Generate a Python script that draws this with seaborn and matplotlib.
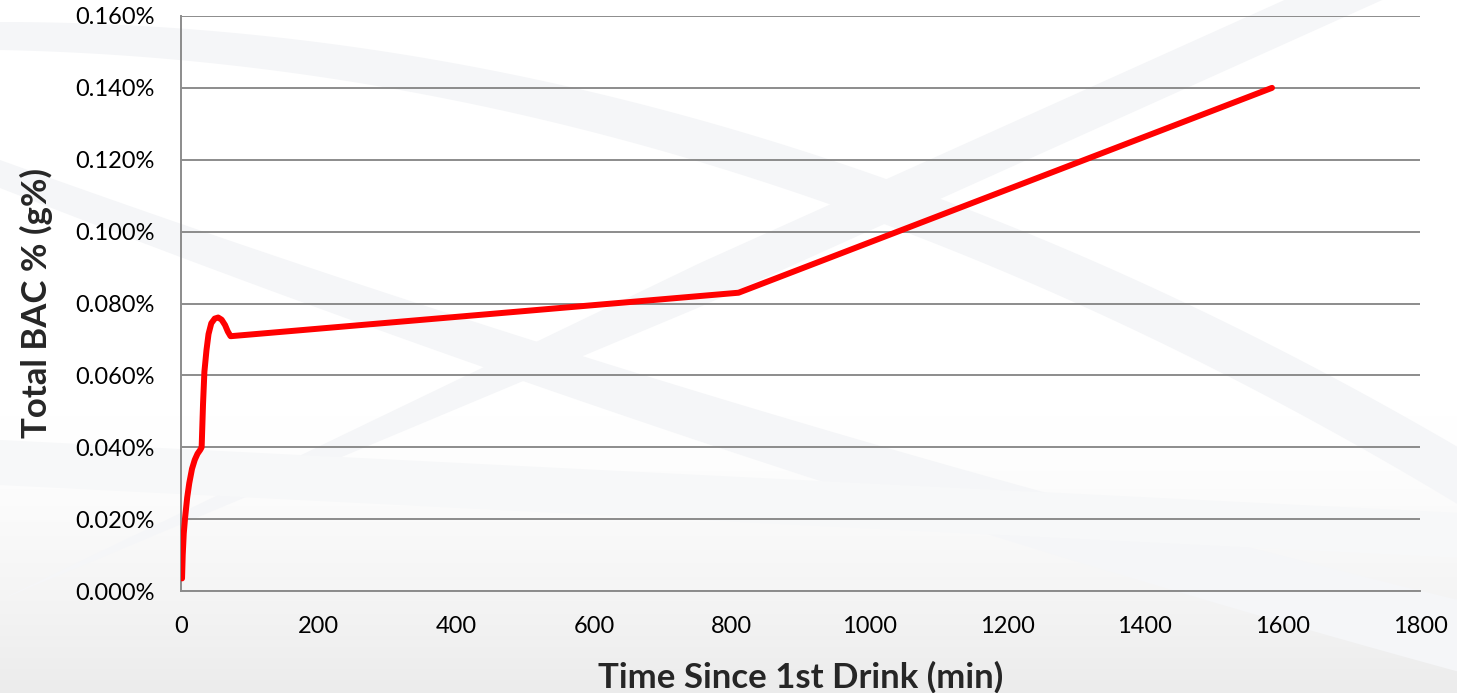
import numpy as np
import pandas as pd
import matplotlib
matplotlib.use("Agg")
import matplotlib.pyplot as plt
import seaborn as sns
from matplotlib.ticker import FuncFormatter

# Blood alcohol concentration over time since the first drink
time_min = [1.5, 2.5, 4, 6, 9, 12, 16, 20, 24, 28, 30,
            32, 34, 37, 40, 44, 49, 54, 59, 64, 68, 72,
            810, 1585]
bac_pct = [0.0035, 0.0100, 0.0160, 0.0205, 0.0260, 0.0300, 0.0340, 0.0365, 0.0382, 0.0393, 0.0400,
           0.0520, 0.0610, 0.0670, 0.0715, 0.0745, 0.0758, 0.0761, 0.0755, 0.0740, 0.0722, 0.0709,
           0.0830, 0.1400]

x_ticks = [0, 200, 400, 600, 800, 1000, 1200, 1400, 1600, 1800]
y_ticks = [0.000, 0.020, 0.040, 0.060, 0.080, 0.100, 0.120, 0.140, 0.160]

df = pd.DataFrame({"Time Since 1st Drink (min)": time_min, "Total BAC % (g%)": bac_pct})

sns.set_theme(style="white")
plt.rcParams["font.family"] = ["Lato", "DejaVu Sans"]

fig = plt.figure(figsize=(14.57, 6.93), dpi=100)

# Slide-style backdrop: soft vertical gradient with faint sweeping bands
bg = fig.add_axes([0, 0, 1, 1], zorder=0)
bg.set_xlim(0, 1457)
bg.set_ylim(693, 0)
bg.axis("off")
grad = np.linspace(0, 1, 256).reshape(-1, 1)
grad = np.clip((grad - 0.6) / 0.4, 0, 1) ** 1.4
shade = 1.0 - 0.075 * grad
img = np.dstack([shade, shade, shade])
bg.imshow(img, extent=[0, 1457, 693, 0], aspect="auto", zorder=0)

xs = np.linspace(0, 1457, 300)
band_col = "#f5f6f8"
# band from upper left sweeping down to the right
top1 = 22 + 0.0002 * xs ** 2
bg.fill_between(xs, top1, top1 + 28 + 0.02 * xs, color=band_col, lw=0, zorder=1)
# band from left middle curving down toward bottom right
top2 = 160 + 0.36 * xs - 0.00004 * xs ** 2
bg.fill_between(xs, top2, top2 + 28 + 0.03 * xs, color=band_col, lw=0, zorder=1)
# tapered band rising from lower left to upper right
mid3 = 600 - 0.45 * xs
half3 = 22 * np.clip(xs / 700, 0, 1)
bg.fill_between(xs, mid3 - half3, mid3 + half3, color=band_col, lw=0, zorder=1)
# band across the lower part
top4 = 440 + 0.05 * xs
bg.fill_between(xs, top4, top4 + 45, color="#f7f8f9", lw=0, zorder=1)

ax = fig.add_axes([181 / 1457, 1 - 591 / 693, (1420 - 181) / 1457, (591 - 16) / 693], zorder=2)
ax.patch.set_alpha(0)

sns.lineplot(data=df, x="Time Since 1st Drink (min)", y="Total BAC % (g%)", ax=ax,
             color="#ff0000", linewidth=4.3, estimator=None, sort=False, zorder=3)
ax.lines[-1].set_solid_capstyle("round")

ax.set_xlim(0, 1800)
ax.set_ylim(0, 0.160)
ax.set_xticks(x_ticks)
ax.set_yticks(y_ticks)
ax.yaxis.set_major_formatter(FuncFormatter(lambda v, p: f"{v:.3f}%"))
ax.grid(axis="y", color="#8c8c8c", linewidth=1.4)
ax.grid(axis="x", visible=False)
for side in ["top", "right"]:
    ax.spines[side].set_visible(False)
for side in ["left", "bottom"]:
    ax.spines[side].set_color("#8c8c8c")
    ax.spines[side].set_linewidth(1.4)
ax.tick_params(axis="both", which="major", direction="out", length=7, width=1.4,
               color="#8c8c8c", labelsize=17, labelcolor="#000000", pad=12)
ax.tick_params(axis="x", pad=11)

ax.set_xlabel("Time Since 1st Drink (min)", fontsize=25, fontweight="bold", labelpad=17)
ax.set_ylabel("Total BAC % (g%)", fontsize=25, fontweight="bold", labelpad=16)

fig.savefig("out.png", dpi=100)
